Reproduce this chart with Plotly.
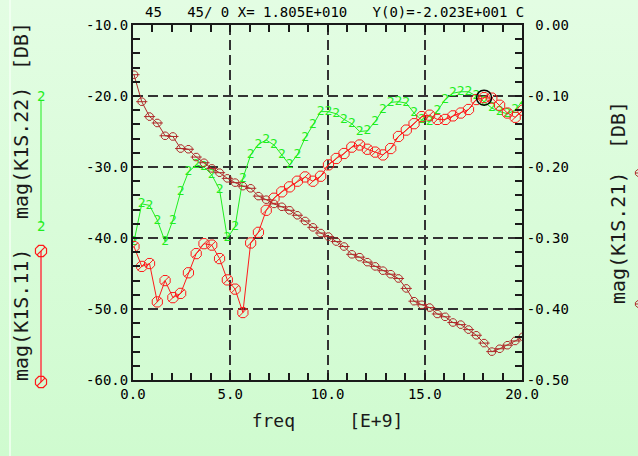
import base64
import math
import plotly.graph_objects as go

# ---- sweep data -----------------------------------------------------------
freq_ghz = [0.05, 0.45, 0.85, 1.25, 1.65, 2.05, 2.45, 2.85, 3.25, 3.65,
            4.05, 4.45, 4.85, 5.25, 5.65, 6.05, 6.45, 6.85, 7.25, 7.65,
            8.05, 8.45, 8.85, 9.25, 9.65, 10.05, 10.45, 10.85, 11.25, 11.65,
            12.05, 12.45, 12.85, 13.25, 13.65, 14.05, 14.45, 14.85, 15.25, 15.65,
            16.05, 16.45, 16.85, 17.25, 17.65, 18.05, 18.45, 18.85, 19.25, 19.65,
            20.05]

s11_db = [-41.2, -44.0, -43.6, -49.0, -46.0, -48.4, -47.8, -44.9, -42.2, -40.8,
          -41.0, -42.9, -45.9, -47.2, -50.5, -40.7, -39.2, -36.1, -34.4, -33.5,
          -32.8, -32.0, -31.4, -32.0, -31.3, -29.7, -28.8, -28.1, -27.2, -26.9,
          -27.5, -27.9, -28.3, -27.4, -25.7, -24.8, -23.9, -22.9, -22.7, -23.3,
          -23.3, -22.8, -22.4, -21.9, -20.5, -20.23, -20.3, -21.3, -22.4, -23.0,
          -22.0]

s22_db = [-40.5, -35.2, -35.4, -37.5, -40.5, -37.5, -33.5, -30.7, -29.7, -30.0,
          -31.1, -33.2, -40.0, -38.4, -31.6, -28.3, -26.8, -26.2, -26.9, -28.3,
          -29.7, -28.3, -25.9, -24.1, -22.2, -22.2, -22.5, -23.3, -23.9, -25.0,
          -24.9, -23.6, -21.9, -20.9, -20.8, -21.0, -22.4, -23.4, -23.6, -22.1,
          -20.5, -19.6, -19.4, -19.4, -20.0, -20.8, -21.7, -22.2, -22.5, -22.0,
          -20.6]

s21_db = [-0.070, -0.108, -0.129, -0.138, -0.156, -0.157, -0.174, -0.175, -0.186, -0.194,
          -0.202, -0.208, -0.216, -0.222, -0.227, -0.230, -0.241, -0.246, -0.252, -0.256,
          -0.261, -0.268, -0.276, -0.285, -0.293, -0.298, -0.305, -0.312, -0.323, -0.327,
          -0.334, -0.340, -0.346, -0.351, -0.357, -0.371, -0.389, -0.394, -0.398, -0.407,
          -0.411, -0.419, -0.422, -0.429, -0.437, -0.448, -0.460, -0.456, -0.451, -0.445,
          -0.439]

# marker readout
marker_freq = 18.05
marker_db = -20.23
header = "45\u00a0\u00a0\u00a045/\u00a00\u00a0X=\u00a01.805E+010\u00a0\u00a0\u00a0Y(0)=-2.023E+001\u00a0C"

x_ticks = [0, 5, 10, 15, 20]
x_labels = ["0.0", "5.0", "10.0", "15.0", "20.0"]
left_ticks = [-60, -50, -40, -30, -20, -10]
left_labels = ["-60.0", "-50.0", "-40.0", "-30.0", "-20.0", "-10.0"]
right_ticks = [-0.5, -0.4, -0.3, -0.2, -0.1, 0.0]
right_labels = ["-0.50", "-0.40", "-0.30", "-0.20", "-0.10", "\u00a00.00"]

# ---- styling ---------------------------------------------------------------
W, H = 638, 456
L, R, T, B = 133, 116, 25, 76
PW, PH = W - L - R, H - T - B
MONO = "DejaVu Sans Mono, Liberation Mono, monospace"
RED = "#ff1a1a"
GREEN = "#1fee1f"
BROWN = "#b02a2a"
INK = "#1a1a1a"


def px_x(px):
    return (px - L) / PW


def px_y(py):
    return (H - B - py) / PH


def octagon_path(rx, ry, stroke):
    pts = []
    for k in range(8):
        a = math.radians(22.5 + 45 * k)
        pts.append((rx * math.cos(a), ry * math.sin(a)))
    p = "M " + " L ".join(f"{x:.2f},{y:.2f}" for x, y in pts) + " Z"
    if stroke == "slash":
        s = rx * 0.7
        p += f" M {-s:.2f},{-s:.2f} L {s:.2f},{s:.2f}"
    else:
        p += f" M {-rx:.2f},0 L {rx:.2f},0"
    return p


fig = go.Figure()

# S21 on the right axis
fig.add_trace(go.Scatter(
    x=freq_ghz, y=s21_db, yaxis="y2", mode="lines+markers",
    line=dict(color=BROWN, width=1),
    marker=dict(symbol="octagon-open", size=8, color=BROWN, line=dict(width=1)),
    showlegend=False, hoverinfo="skip"))
fig.add_trace(go.Scatter(
    x=freq_ghz, y=s21_db, yaxis="y2", mode="markers",
    marker=dict(symbol="line-ew-open", size=8, color=BROWN, line=dict(width=1)),
    showlegend=False, hoverinfo="skip"))

# S22 drawn with "2" glyphs
fig.add_trace(go.Scatter(
    x=freq_ghz, y=s22_db, mode="lines+text",
    text=["2"] * len(s22_db), textposition="middle center",
    textfont=dict(family=MONO, size=13, color=GREEN),
    line=dict(color=GREEN, width=1),
    showlegend=False, hoverinfo="skip"))

# S11
fig.add_trace(go.Scatter(
    x=freq_ghz, y=s11_db, mode="lines+markers",
    line=dict(color=RED, width=1),
    marker=dict(symbol="octagon-open", size=11, color=RED, line=dict(width=1)),
    showlegend=False, hoverinfo="skip"))
fig.add_trace(go.Scatter(
    x=freq_ghz, y=s11_db, mode="markers",
    marker=dict(symbol="line-ne-open", size=8, color=RED, line=dict(width=1)),
    showlegend=False, hoverinfo="skip"))

# marker readout circle
fig.add_trace(go.Scatter(
    x=[marker_freq], y=[marker_db], mode="markers",
    marker=dict(symbol="circle-open", size=15, color="black", line=dict(width=1.5)),
    showlegend=False, hoverinfo="skip"))

# ---- background gradient -------------------------------------------------
svg = (f'<svg xmlns="http://www.w3.org/2000/svg" width="{W}" height="{H}" '
       f'preserveAspectRatio="none"><defs><linearGradient id="g" x1="0" y1="0" x2="0" y2="1">'
       f'<stop offset="0" stop-color="#e3fde3"/><stop offset="1" stop-color="#cffbcf"/>'
       f'</linearGradient></defs><rect width="{W}" height="{H}" fill="url(#g)"/></svg>')
bg_src = "data:image/svg+xml;base64," + base64.b64encode(svg.encode()).decode()

shapes = [
    # window edge highlight
    dict(type="line", xref="paper", yref="paper", x0=px_x(10), x1=px_x(10),
         y0=px_y(H), y1=px_y(0), line=dict(color="#f4fff4", width=1.5)),
    # side legend strokes
    dict(type="line", xref="paper", yref="paper", x0=px_x(41), x1=px_x(41),
         y0=px_y(100), y1=px_y(223), line=dict(color=GREEN, width=1)),
    dict(type="line", xref="paper", yref="paper", x0=px_x(41), x1=px_x(41),
         y0=px_y(251), y1=px_y(382), line=dict(color="#f46a6a", width=2)),
    dict(type="line", xref="paper", yref="paper", x0=px_x(641), x1=px_x(641),
         y0=px_y(173), y1=px_y(304), line=dict(color=BROWN, width=1)),
]
for cy in (251, 382):
    shapes.append(dict(type="path", xref="paper", yref="paper",
                       xsizemode="pixel", ysizemode="pixel",
                       xanchor=px_x(41), yanchor=px_y(cy),
                       path=octagon_path(6, 6, "slash"),
                       line=dict(color=RED, width=1.2)))
for cy in (173, 304):
    shapes.append(dict(type="path", xref="paper", yref="paper",
                       xsizemode="pixel", ysizemode="pixel",
                       xanchor=px_x(640), yanchor=px_y(cy),
                       path=octagon_path(5, 4, "bar"),
                       line=dict(color=BROWN, width=1)))

annotations = [
    dict(text=header, xref="paper", yref="paper", x=px_x(143), y=px_y(12),
         xanchor="left", yanchor="middle", showarrow=False,
         font=dict(family=MONO, size=14, color="black")),
    dict(text="[DB]", xref="paper", yref="paper", x=px_x(21), y=px_y(46),
         textangle=-90, xanchor="center", yanchor="middle", showarrow=False,
         font=dict(family=MONO, size=20, color=INK)),
    dict(text="mag(K1S.22)", xref="paper", yref="paper", x=px_x(21), y=px_y(153),
         textangle=-90, xanchor="center", yanchor="middle", showarrow=False,
         font=dict(family=MONO, size=20, color=INK)),
    dict(text="mag(K1S.11)", xref="paper", yref="paper", x=px_x(21), y=px_y(315),
         textangle=-90, xanchor="center", yanchor="middle", showarrow=False,
         font=dict(family=MONO, size=20, color=INK)),
    dict(text="[DB]", xref="paper", yref="paper", x=px_x(618), y=px_y(125),
         textangle=-90, xanchor="center", yanchor="middle", showarrow=False,
         font=dict(family=MONO, size=20, color=INK)),
    dict(text="mag(K1S.21)", xref="paper", yref="paper", x=px_x(618), y=px_y(238),
         textangle=-90, xanchor="center", yanchor="middle", showarrow=False,
         font=dict(family=MONO, size=20, color=INK)),
]
for cy in (96, 226):
    annotations.append(dict(text="2", xref="paper", yref="paper", x=px_x(41), y=px_y(cy),
                            xanchor="center", yanchor="middle", showarrow=False,
                            font=dict(family=MONO, size=14, color=GREEN)))

grid = dict(showgrid=True, gridcolor="#333333", gridwidth=1.5, griddash="10px,5px")
minor_x = dict(dtick=1, ticks="inside", ticklen=7, tickcolor=INK, tickwidth=1.5, showgrid=False)

fig.update_layout(
    width=W, height=H,
    margin=dict(l=L, r=R, t=T, b=B, pad=0),
    paper_bgcolor="#d9fcd9", plot_bgcolor="rgba(0,0,0,0)",
    images=[dict(source=bg_src, xref="paper", yref="paper",
                 x=px_x(0), y=px_y(0), sizex=W / PW, sizey=H / PH,
                 xanchor="left", yanchor="top", sizing="stretch", layer="below")],
    shapes=shapes, annotations=annotations,
    font=dict(family=MONO, color="black"),
    xaxis=dict(range=[0, 20], tickvals=x_ticks, ticktext=x_labels,
               ticks="inside", ticklen=7, tickwidth=1.5, tickcolor=INK,
               minor=minor_x, showline=True, linecolor=INK, linewidth=2,
               mirror="ticks", zeroline=False,
               tickfont=dict(family=MONO, size=14, color="black"),
               title=dict(text="freq\u00a0\u00a0\u00a0\u00a0\u00a0[E+9]",
                          font=dict(family=MONO, size=18, color=INK), standoff=14),
               **grid),
    yaxis=dict(range=[-60, -10], tickvals=left_ticks, ticktext=left_labels,
               ticks="inside", ticklen=7, tickwidth=1.5, tickcolor=INK,
               minor=dict(dtick=2, ticks="inside", ticklen=7, tickcolor=INK,
                          tickwidth=1.5, showgrid=False),
               showline=True, linecolor=INK, linewidth=2, zeroline=False,
               tickfont=dict(family=MONO, size=14, color="black"),
               **grid),
    yaxis2=dict(range=[-0.5, 0], overlaying="y", side="right",
                tickvals=right_ticks, ticktext=right_labels,
                ticks="inside", ticklen=7, tickwidth=1.5, tickcolor=INK,
                minor=dict(dtick=0.02, ticks="inside", ticklen=7, tickcolor=INK,
                           tickwidth=1.5, showgrid=False),
                showline=True, linecolor=INK, linewidth=2, zeroline=False,
                showgrid=False,
                tickfont=dict(family=MONO, size=14, color="black")),
)

fig.write_html("out.html")
